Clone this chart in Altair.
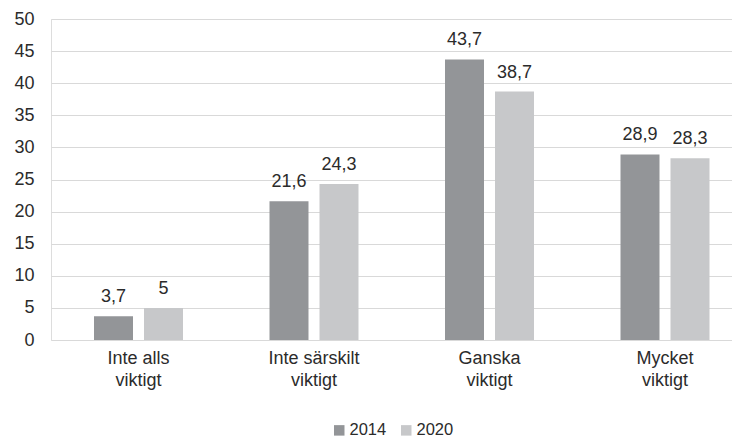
import altair as alt
import pandas as pd

categories = ["Inte alls\nviktigt", "Inte särskilt\nviktigt", "Ganska\nviktigt", "Mycket\nviktigt"]
years = ["2014", "2020"]
values_2014 = [3.7, 21.6, 43.7, 28.9]
values_2020 = [5.0, 24.3, 38.7, 28.3]
colors = ["#939598", "#c7c8ca"]

rows = []
for i, c in enumerate(categories):
    for y, vals in zip(years, [values_2014, values_2020]):
        v = vals[i]
        rows.append({"cat": c, "year": y, "value": v,
                     "label": (f"{v:g}").replace(".", ",")})
df = pd.DataFrame(rows)

FONT = "Liberation Sans"
TXT = "#2b2b2b"

x = alt.X("cat:N", sort=categories, title=None,
          scale=alt.Scale(paddingInner=0.4929, paddingOuter=0.1866, align=0.6565),
          axis=alt.Axis(labelAngle=0, labelExpr="split(datum.label, '\\n')",
                        domain=False, ticks=False, labelFontSize=18,
                        labelColor=TXT, labelFont=FONT, labelPadding=9,
                        labelLineHeight=22, labelBaseline="top"))
xo = alt.XOffset("year:N", sort=years, scale=alt.Scale(paddingInner=0.22, paddingOuter=0))
y = alt.Y("value:Q", title=None,
          scale=alt.Scale(domain=[0, 50], nice=False),
          axis=alt.Axis(values=list(range(0, 55, 5)), domain=False, ticks=False,
                        labelFontSize=18, labelColor=TXT, labelFont=FONT,
                        labelPadding=17, grid=True, gridColor="#d9d9d9",
                        gridWidth=1.2))

bars = alt.Chart(df).mark_bar().encode(
    x=x, xOffset=xo, y=y,
    color=alt.Color("year:N", sort=years,
                    scale=alt.Scale(domain=years, range=colors),
                    legend=alt.Legend(title=None, orient="none", direction="horizontal",
                                      legendX=280, legendY=403, padding=0,
                                      symbolType="square", symbolSize=110,
                                      symbolStrokeWidth=0, labelFontSize=16.5,
                                      labelFont=FONT, labelColor=TXT,
                                      columnPadding=11, labelOffset=2)),
)

text = alt.Chart(df).mark_text(baseline="bottom", dy=-10, fontSize=18,
                               font=FONT, color=TXT).encode(
    x=x, xOffset=xo, y=y, text="label:N")

chart = (bars + text).properties(
    width=681, height=321,
    autosize=alt.AutoSizeParams(type="none"),
    padding={"left": 43, "top": 11, "right": 0, "bottom": 99},
).configure_view(stroke=None).configure(background="white")

chart.save("out.html", embed_options={"renderer": "svg", "actions": False})
